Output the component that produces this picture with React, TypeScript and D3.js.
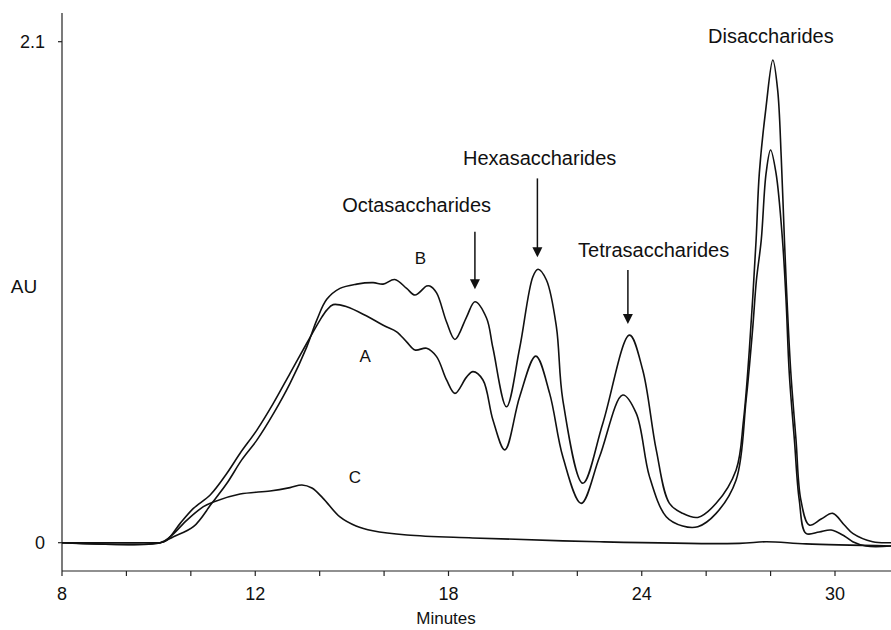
import React from "react";
import * as d3 from "d3";

// chromatogram traces: [minutes, AU]
const traceA: [number, number][] = [
  [6, 0], [8.74, 0], [9.05, 0], [9.26, 0.011], [9.67, 0.081], [10.08, 0.144],
  [10.6, 0.2], [11.12, 0.291], [11.53, 0.375], [12.05, 0.472], [12.56, 0.584],
  [13.08, 0.71], [13.6, 0.836], [14.01, 0.933], [14.22, 0.975], [14.42, 0.998],
  [14.84, 0.989], [15.46, 0.95], [16.02, 0.908], [16.39, 0.884], [16.7, 0.842],
  [16.96, 0.808], [17.32, 0.815], [17.63, 0.78], [17.94, 0.682], [18.2, 0.626],
  [18.56, 0.694], [18.76, 0.717], [19.07, 0.682], [19.38, 0.514], [19.75, 0.389],
  [20.21, 0.612], [20.71, 0.782], [21.14, 0.626], [21.55, 0.36], [22.12, 0.165],
  [22.69, 0.36], [23.41, 0.619], [23.83, 0.542], [24.24, 0.277], [24.76, 0.109],
  [25.27, 0.07], [25.74, 0.067], [26.31, 0.123], [26.93, 0.263], [27.24, 0.598],
  [27.44, 0.891], [27.56, 1.1], [27.71, 1.268], [27.86, 1.548], [28.0, 1.646],
  [28.17, 1.548], [28.37, 1.268], [28.48, 1.017], [28.58, 0.71], [28.74, 0.43],
  [28.89, 0.179], [29.1, 0.039], [29.51, 0.045], [29.88, 0.053], [30.29, 0.028],
  [30.55, 0.004], [30.96, -0.014], [31.75, -0.014],
];

const traceB: [number, number][] = [
  [6, 0], [9.05, 0], [9.46, 0.025], [10.08, 0.067], [10.65, 0.165], [11.12, 0.249],
  [11.58, 0.347], [12.05, 0.43], [12.56, 0.54], [13.08, 0.668], [13.6, 0.821],
  [13.91, 0.933], [14.22, 1.02], [14.63, 1.066], [15.15, 1.084], [15.66, 1.09],
  [15.97, 1.084], [16.33, 1.103], [16.7, 1.066], [16.96, 1.038], [17.32, 1.076],
  [17.42, 1.076], [17.63, 1.047], [17.94, 0.925], [18.2, 0.852], [18.56, 0.946],
  [18.82, 1.01], [19.18, 0.942], [19.38, 0.816], [19.8, 0.57], [20.21, 0.816],
  [20.62, 1.115], [20.78, 1.146], [21.04, 1.101], [21.35, 0.905], [21.55, 0.598],
  [22.17, 0.249], [22.79, 0.5], [23.62, 0.87], [24.03, 0.724], [24.45, 0.389],
  [24.86, 0.165], [25.27, 0.123], [25.74, 0.106], [26.31, 0.165], [26.93, 0.305],
  [27.16, 0.514], [27.34, 0.808], [27.55, 1.268], [27.65, 1.548], [27.86, 1.827],
  [28.07, 2.023], [28.22, 1.897], [28.33, 1.618], [28.43, 1.268], [28.52, 0.989],
  [28.63, 0.71], [28.79, 0.43], [28.94, 0.179], [29.2, 0.074], [29.57, 0.099],
  [29.93, 0.123], [30.29, 0.074], [30.55, 0.039], [31.17, 0.004], [31.75, 0],
];

const traceC: [number, number][] = [
  [6, 0], [9.05, 0], [9.36, 0.025], [9.88, 0.095], [10.39, 0.151], [10.7, 0.171],
  [11.53, 0.204], [12.46, 0.217], [13.08, 0.231], [13.45, 0.242], [13.76, 0.229],
  [14.1, 0.187], [14.63, 0.108], [15.13, 0.07], [15.65, 0.05], [16.71, 0.032],
  [18.75, 0.02], [22.69, 0.004], [27.03, -0.003], [27.86, 0.004], [29.1, -0.005],
  [31.75, -0.014],
];

const xTicks = [6, 8, 10, 12, 14, 16, 18, 20, 22, 24, 26, 28, 30];
const xTickValues = [6, 12, 18, 24, 30];
const xTickLabels = ["8", "12", "18", "24", "30"];
const yTickValues = [0, 2.1];
const yTickLabels = ["0", "2.1"];

// peak annotations: label, arrow x (min), arrow top / tip (AU), label anchor
const peakNames = ["Octasaccharides", "Hexasaccharides", "Tetrasaccharides"];
const peakTimes = [18.82, 20.76, 23.57];
const arrowTops = [1.303, 1.527, 1.143];
const arrowTips = [1.062, 1.196, 0.917];
const labelPos: [number, number][] = [[17.01, 1.385], [20.83, 1.583], [24.37, 1.199]];

const traceNames = ["A", "B", "C"];
const traceLabelPos: [number, number][] = [[15.41, 0.759], [17.13, 1.168], [15.09, 0.249]];

const W = 891;
const H = 630;
const font = "'Liberation Sans', Arial, sans-serif";

export default function App() {
  const x = d3.scaleLinear().domain([6, 30]).range([62, 835]);
  const y = d3.scaleLinear().domain([0, 2.1]).range([542.7, 41.7]);

  const line = d3
    .line<[number, number]>()
    .x(d => x(d[0]))
    .y(d => y(d[1]))
    .curve(d3.curveCatmullRom.alpha(0.5));

  const axisY = 571;
  const yTop = y(2.22);

  return (
    <svg
      width={W}
      height={H}
      style={{ position: "absolute", left: 0, top: 0, background: "#fff" }}
      fontFamily={font}
    >
      {/* axes */}
      <line x1={x(6)} x2={x(6)} y1={yTop} y2={axisY} stroke="#222" strokeWidth={1.2} />
      <line x1={x(6)} x2={W} y1={axisY} y2={axisY} stroke="#222" strokeWidth={1.2} />
      {xTicks.map(t => (
        <line key={t} x1={x(t)} x2={x(t)} y1={axisY} y2={axisY + 5} stroke="#222" strokeWidth={1.2} />
      ))}
      {xTickValues.map((t, i) => (
        <text key={t} x={x(t)} y={600} textAnchor="middle" fontSize={18} fill="#111">
          {xTickLabels[i]}
        </text>
      ))}
      {yTickValues.map((v, i) => (
        <g key={v}>
          <line x1={x(6) - 4} x2={x(6)} y1={y(v)} y2={y(v)} stroke="#222" strokeWidth={1.2} />
          <text x={45} y={y(v) + 6} textAnchor="end" fontSize={18} fill="#111">
            {yTickLabels[i]}
          </text>
        </g>
      ))}
      <text x={24} y={293} textAnchor="middle" fontSize={19} fill="#111">AU</text>
      <text x={446} y={624} textAnchor="middle" fontSize={17} fill="#111">Minutes</text>

      {/* traces */}
      {[traceA, traceB, traceC].map((tr, i) => (
        <path key={i} d={line(tr) || ""} fill="none" stroke="#111" strokeWidth={1.6} />
      ))}
      {traceNames.map((n, i) => (
        <text key={n} x={x(traceLabelPos[i][0])} y={y(traceLabelPos[i][1])} textAnchor="middle" fontSize={17} fill="#111">
          {n}
        </text>
      ))}

      {/* peak arrows */}
      {peakNames.map((n, i) => {
        const ax = x(peakTimes[i]);
        const tip = y(arrowTips[i]);
        return (
          <g key={n}>
            <line x1={ax} x2={ax} y1={y(arrowTops[i])} y2={tip - 8} stroke="#111" strokeWidth={1.5} />
            <path d={`M${ax - 5},${tip - 10}L${ax + 5},${tip - 10}L${ax},${tip}Z`} fill="#111" />
            <text x={x(labelPos[i][0])} y={y(labelPos[i][1])} textAnchor="middle" fontSize={20} fill="#111">
              {n}
            </text>
          </g>
        );
      })}
      <text x={x(28.01)} y={y(2.093)} textAnchor="middle" fontSize={20} fill="#111">Disaccharides</text>
    </svg>
  );
}
